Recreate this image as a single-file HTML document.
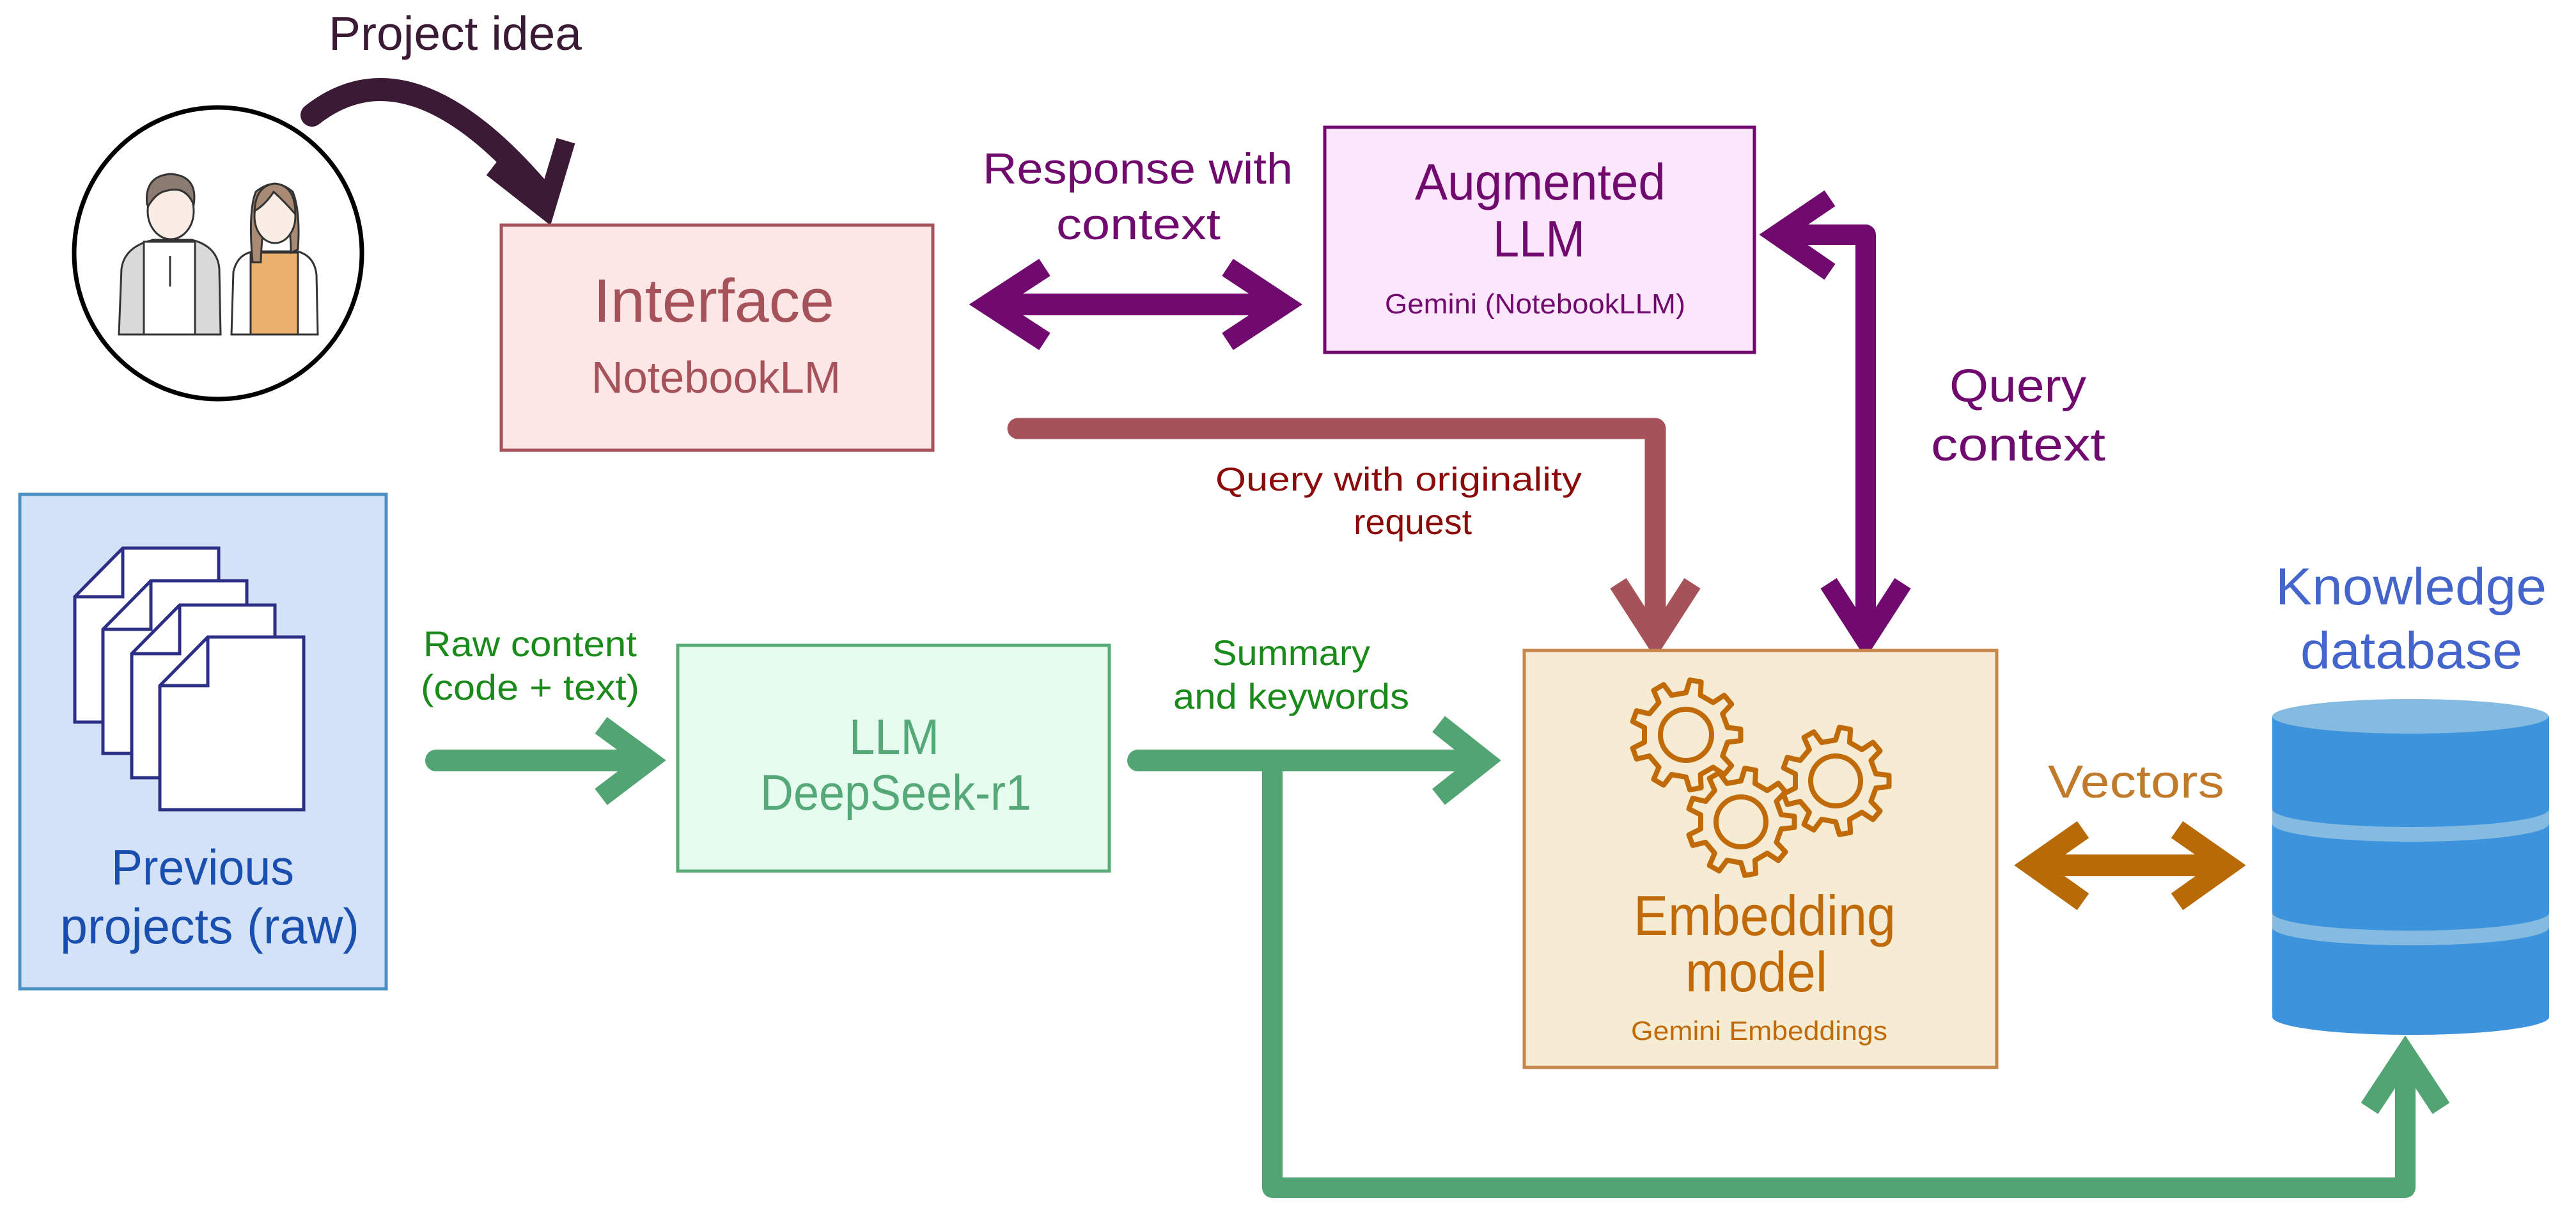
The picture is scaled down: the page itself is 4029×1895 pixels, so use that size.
<!DOCTYPE html>
<html><head><meta charset="utf-8"><style>
html,body{margin:0;padding:0;background:#fff;}
svg{display:block;}
text{font-family:"Liberation Sans","NanumGothic",sans-serif;}
</style></head><body>
<svg id="s" width="4029" height="1895" viewBox="0 0 4029 1895" xmlns="http://www.w3.org/2000/svg">
<rect width="4029" height="1895" fill="#fff"/>

<ellipse cx="341" cy="396" rx="225" ry="228" fill="#fff" stroke="#000" stroke-width="7"/>
<path d="M186,523 L190,420 Q195,385 240,375 L300,375 Q340,385 343,420 L345,523 Z" fill="#d9d9d9" stroke="#333" stroke-width="3"/>
<path d="M225,523 L225,378 L305,378 L305,523 Z" fill="#fff" stroke="#333" stroke-width="3"/>
<line x1="266" y1="400" x2="266" y2="448" stroke="#333" stroke-width="3"/>
<ellipse cx="267" cy="330" rx="36" ry="44" fill="#f9ede6" stroke="#333" stroke-width="3"/>
<path d="M230,320 Q225,275 267,272 Q310,275 303,320 Q290,290 262,298 Q245,300 232,322 Z" fill="#8c7b70" stroke="#333" stroke-width="3"/>
<path d="M362,523 L365,425 Q372,395 400,393 L465,393 Q492,400 495,430 L497,523 Z" fill="#fff" stroke="#333" stroke-width="3"/>
<rect x="392" y="395" width="74" height="128" fill="#ecb06d" stroke="#333" stroke-width="3"/>
<path d="M395,410 Q388,330 400,300 Q430,275 458,300 Q470,330 466,390 L455,395 Q455,330 430,310 Q410,330 408,410 Z" fill="#a88a75" stroke="#333" stroke-width="3"/>
<ellipse cx="430" cy="338" rx="32" ry="42" fill="#f9ede6" stroke="#333" stroke-width="3"/>
<path d="M398,330 Q400,290 430,287 Q462,290 462,335 Q445,315 428,300 Q415,320 398,330 Z" fill="#a88a75" stroke="#333" stroke-width="3"/>

<text x="514" y="78" font-size="74" fill="#3b1a36" textLength="396" lengthAdjust="spacingAndGlyphs">Project idea</text>
<path d="M488,180 Q640,60 845,300" fill="none" stroke="#3b1a36" stroke-width="36" stroke-linecap="round"/>
<path d="M770,262 L853,327 L885,220" fill="none" stroke="#3b1a36" stroke-width="30" stroke-linejoin="miter"/>

<rect x="784" y="352" width="675" height="352" fill="#fde6e6" stroke="#a5525a" stroke-width="5"/>
<text x="928" y="503" font-size="96" fill="#a5525a" textLength="377" lengthAdjust="spacingAndGlyphs">Interface</text>
<text x="925" y="614" font-size="70" fill="#a5525a" textLength="390" lengthAdjust="spacingAndGlyphs">NotebookLM</text>

<text x="1537" y="287" font-size="68" fill="#700a6e" textLength="485" lengthAdjust="spacingAndGlyphs">Response with</text>
<text x="1652" y="374" font-size="68" fill="#700a6e" textLength="257" lengthAdjust="spacingAndGlyphs">context</text>
<line x1="1560" y1="476" x2="1995" y2="476" stroke="#700a6e" stroke-width="34"/>
<path d="M1634,418 L1545,476 L1634,534" fill="none" stroke="#700a6e" stroke-width="32"/>
<path d="M1920,418 L2008,476 L1920,534" fill="none" stroke="#700a6e" stroke-width="32"/>

<rect x="2072" y="199" width="672" height="352" fill="#fce6fc" stroke="#700a6e" stroke-width="5"/>
<text x="2213" y="312" font-size="80" fill="#700a6e" textLength="392" lengthAdjust="spacingAndGlyphs">Augmented</text>
<text x="2335" y="401" font-size="80" fill="#700a6e" textLength="144" lengthAdjust="spacingAndGlyphs">LLM</text>
<text x="2166" y="490" font-size="44" fill="#700a6e" textLength="470" lengthAdjust="spacingAndGlyphs">Gemini (NotebookLLM)</text>

<path d="M2790,367 L2918,367 L2918,990" fill="none" stroke="#700a6e" stroke-width="32" stroke-linejoin="round"/>
<path d="M2862,310 L2778,367 L2862,425" fill="none" stroke="#700a6e" stroke-width="30"/>
<path d="M2860,912 L2918,1002 L2976,912" fill="none" stroke="#700a6e" stroke-width="30"/>
<text x="3049" y="628" font-size="72" fill="#700a6e" textLength="214" lengthAdjust="spacingAndGlyphs">Query</text>
<text x="3020" y="720" font-size="72" fill="#700a6e" textLength="273" lengthAdjust="spacingAndGlyphs">context</text>

<path d="M1592,670 L2589,670 L2589,990" fill="none" stroke="#a5525a" stroke-width="33" stroke-linecap="round" stroke-linejoin="round"/>
<path d="M2531,912 L2589,1002 L2647,912" fill="none" stroke="#a5525a" stroke-width="30"/>
<text x="1901" y="767" font-size="52" fill="#8b0a0a" textLength="573" lengthAdjust="spacingAndGlyphs">Query with originality</text>
<text x="2117" y="835" font-size="56" fill="#8b0a0a" textLength="185" lengthAdjust="spacingAndGlyphs">request</text>

<rect x="31" y="773" width="573" height="773" fill="#d3e2f7" stroke="#4a90c2" stroke-width="5"/>
<g fill="#fff" stroke="#2c2f85" stroke-width="5" stroke-linejoin="miter">
<path d="M192,857 L342,857 L342,1129 L117,1129 L117,933 Z"/><path d="M192,857 L192,933 L117,933" fill="none"/>
<path d="M236,908 L386,908 L386,1178 L161,1178 L161,984 Z"/><path d="M236,908 L236,984 L161,984" fill="none"/>
<path d="M281,946 L430,946 L430,1216 L206,1216 L206,1022 Z"/><path d="M281,946 L281,1022 L206,1022" fill="none"/>
<path d="M325,996 L475,996 L475,1266 L250,1266 L250,1072 Z"/><path d="M325,996 L325,1072 L250,1072" fill="none"/>
</g>
<text x="174" y="1383" font-size="78" fill="#1a4fb0" textLength="286" lengthAdjust="spacingAndGlyphs">Previous</text>
<text x="94" y="1475" font-size="78" fill="#1a4fb0" textLength="468" lengthAdjust="spacingAndGlyphs">projects (raw)</text>

<text x="662" y="1026" font-size="56" fill="#1a8a1a" textLength="334" lengthAdjust="spacingAndGlyphs">Raw content</text>
<text x="658" y="1094" font-size="56" fill="#1a8a1a" textLength="342" lengthAdjust="spacingAndGlyphs">(code + text)</text>
<line x1="682" y1="1189" x2="1005" y2="1189" stroke="#52a573" stroke-width="34" stroke-linecap="round"/>
<path d="M940,1134 L1015,1189 L940,1246" fill="none" stroke="#52a573" stroke-width="32"/>

<rect x="1060" y="1009" width="675" height="353" fill="#e6fcee" stroke="#5aab78" stroke-width="5"/>
<text x="1328" y="1179" font-size="78" fill="#55a878" textLength="141" lengthAdjust="spacingAndGlyphs">LLM</text>
<text x="1189" y="1266" font-size="78" fill="#55a878" textLength="424" lengthAdjust="spacingAndGlyphs">DeepSeek-r1</text>

<text x="1896" y="1040" font-size="56" fill="#1a8a1a" textLength="247" lengthAdjust="spacingAndGlyphs">Summary</text>
<text x="1835" y="1108" font-size="56" fill="#1a8a1a" textLength="369" lengthAdjust="spacingAndGlyphs">and keywords</text>
<line x1="1780" y1="1189" x2="2312" y2="1189" stroke="#52a573" stroke-width="34" stroke-linecap="round"/>
<path d="M2250,1132 L2322,1189 L2250,1246" fill="none" stroke="#52a573" stroke-width="32"/>
<path d="M1990,1189 L1990,1857 L3762,1857 L3762,1660" fill="none" stroke="#52a573" stroke-width="32" stroke-linejoin="round"/>
<path d="M3706,1733 L3762,1648 L3818,1733" fill="none" stroke="#52a573" stroke-width="32"/>

<rect x="2384" y="1017" width="739" height="652" fill="#f6ebd3" stroke="#c8864a" stroke-width="5"/>
<g id="gears" fill="none" stroke="#c06a0a" stroke-width="8" stroke-linejoin="round"></g>
<text x="2555" y="1462" font-size="88" fill="#c06a0a" textLength="410" lengthAdjust="spacingAndGlyphs">Embedding</text>
<text x="2636" y="1550" font-size="88" fill="#c06a0a" textLength="222" lengthAdjust="spacingAndGlyphs">model</text>
<text x="2551" y="1626" font-size="42" fill="#c06a0a" textLength="401" lengthAdjust="spacingAndGlyphs">Gemini Embeddings</text>

<text x="3203" y="1247" font-size="72" fill="#c07a2a" textLength="276" lengthAdjust="spacingAndGlyphs">Vectors</text>
<line x1="3190" y1="1353" x2="3475" y2="1353" stroke="#b86a06" stroke-width="34"/>
<path d="M3258,1297 L3178,1353 L3258,1410" fill="none" stroke="#b86a06" stroke-width="32"/>
<path d="M3405,1297 L3485,1353 L3405,1410" fill="none" stroke="#b86a06" stroke-width="32"/>

<text x="3559" y="945" font-size="82" fill="#4466cc" textLength="424" lengthAdjust="spacingAndGlyphs">Knowledge</text>
<text x="3598" y="1045" font-size="82" fill="#4466cc" textLength="347" lengthAdjust="spacingAndGlyphs">database</text>
<g>
<path d="M3554,1120 L3554,1590 A216,28 0 0 0 3987,1590 L3987,1120 Z" fill="#3d93dc"/>
<ellipse cx="3770" cy="1120" rx="216" ry="27" fill="#85bbe0"/>
<path d="M3554,1265 A216,28 0 0 0 3987,1265 L3987,1288 A216,28 0 0 1 3554,1288 Z" fill="#85bbe0"/>
<path d="M3554,1427 A216,28 0 0 0 3987,1427 L3987,1450 A216,28 0 0 1 3554,1450 Z" fill="#85bbe0"/>
</g>
</svg>
<script>
function gear(cx,cy,r1,r2,rh,n){
  var pts=[];
  for(var i=0;i<n;i++){
    var a=i*2*Math.PI/n, s=Math.PI/n;
    var angs=[[a-s*0.5,r1],[a-s*0.3,r2],[a+s*0.3,r2],[a+s*0.5,r1],[a+s*1.5,r1]];
    angs.forEach(function(p){pts.push([cx+p[1]*Math.cos(p[0]),cy+p[1]*Math.sin(p[0])]);});
  }
  var d="M"+pts.map(function(p){return p[0].toFixed(1)+","+p[1].toFixed(1);}).join(" L")+" Z";
  var g=document.getElementById("gears");
  var p=document.createElementNS("http://www.w3.org/2000/svg","path");p.setAttribute("d",d);g.appendChild(p);
  var c=document.createElementNS("http://www.w3.org/2000/svg","circle");
  c.setAttribute("cx",cx);c.setAttribute("cy",cy);c.setAttribute("r",rh);g.appendChild(c);
}
gear(2637,1149,66,86,40,9);
gear(2871,1221,64,84,39,9);
gear(2723,1285,64,84,39,9);
</script>
</body></html>
